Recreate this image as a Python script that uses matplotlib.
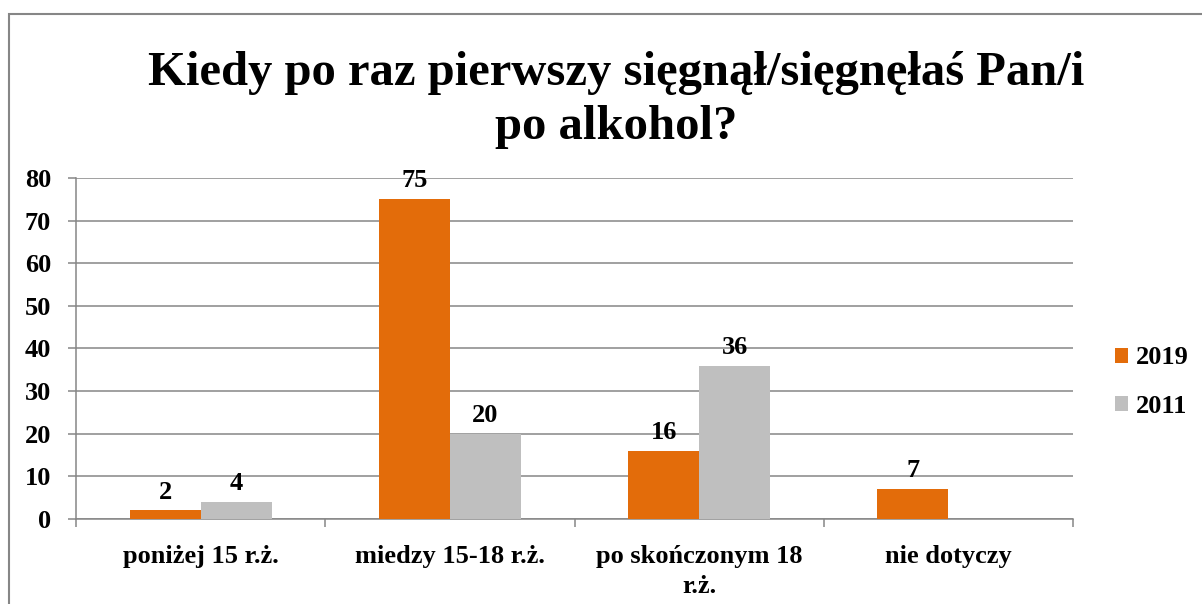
import matplotlib.pyplot as plt
import numpy as np
from matplotlib.patches import Rectangle

plt.rcParams['font.family'] = ['Liberation Serif', 'DejaVu Serif']
plt.rcParams['font.weight'] = 'bold'

categories = ['poniżej 15 r.ż.', 'miedzy 15-18 r.ż.', 'po skończonym 18\nr.ż.', 'nie dotyczy']
values_2019 = [2, 75, 16, 7]
values_2011 = [4, 20, 36, np.nan]
series_names = ['2019', '2011']
colors = ['#E36C0A', '#BFBFBF']
title = 'Kiedy po raz pierwszy sięgnął/sięgnęłaś Pan/i\npo alkohol?'

fs = 19

fig = plt.figure(figsize=(12.02, 6.04), dpi=100)
# outer chart border
fig.patches.append(Rectangle((9 / 1202, -0.1), 1.2, (604 - 14) / 604 + 0.1,
                             transform=fig.transFigure, fill=False,
                             edgecolor='#868686', linewidth=1.5))

ax = fig.add_axes([76 / 1202, 85 / 604, (1073 - 76) / 1202, 341 / 604])

x = np.arange(len(categories))
w = 0.285
for k, (vals, name, col) in enumerate(zip([values_2019, values_2011], series_names, colors)):
    offs = -w / 2 if k == 0 else w / 2
    b = ax.bar(x + offs, vals, width=w, color=col, label=name, zorder=3)
    for rect, v in zip(b, vals):
        if np.isnan(v):
            continue
        ax.annotate(f'{v:g}', (rect.get_x() + rect.get_width() / 2, v),
                    xytext=(0, 5), textcoords='offset points',
                    ha='center', va='bottom', fontsize=fs, fontweight='bold')

ax.set_xlim(-0.5, len(categories) - 0.5)
ax.set_ylim(0, 80)
ax.set_yticks(range(0, 81, 10))
ax.yaxis.grid(True, color='#868686', linewidth=1.1, zorder=0)
ax.set_axisbelow(True)

ax.set_xticks(x)
ax.set_xticklabels(categories, fontsize=fs, fontweight='bold', linespacing=1.35)
ax.set_xticks(np.arange(-0.5, len(categories), 1.0), minor=True)
ax.tick_params(axis='x', which='major', length=0, pad=19)
ax.tick_params(axis='x', which='minor', length=6, width=1.1, color='#868686', direction='out')
ax.tick_params(axis='y', length=6, width=1.1, color='#868686', direction='out', pad=12, labelsize=fs)
for lbl in ax.get_yticklabels():
    lbl.set_fontweight('bold')

for s in ['top', 'right']:
    ax.spines[s].set_visible(False)
for s in ['left', 'bottom']:
    ax.spines[s].set_color('#868686')
    ax.spines[s].set_linewidth(1.1)

fig.text(0.513, 0.915, title, ha='center', va='top', fontsize=35,
         fontweight='bold', linespacing=1.27)

ax.legend(loc='center left', bbox_to_anchor=(1115 / 1202, (604 - 382) / 604),
          bbox_transform=fig.transFigure, frameon=False, borderpad=0,
          borderaxespad=0, handlelength=0.5, handleheight=0.5, handletextpad=0.3,
          labelspacing=0.95, prop={'weight': 'bold', 'size': fs})

fig.savefig('out.png', dpi=100)
